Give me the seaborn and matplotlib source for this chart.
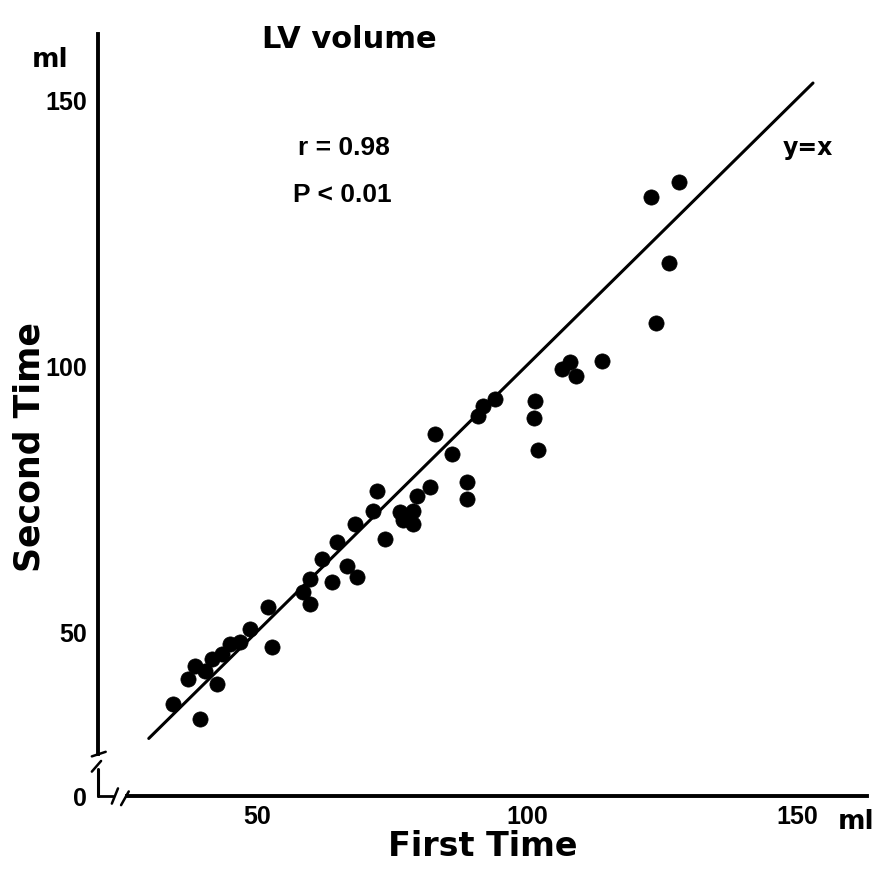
import matplotlib
matplotlib.use("Agg")
import matplotlib.pyplot as plt
from matplotlib.lines import Line2D
import seaborn as sns
import pandas as pd

# ---- data ----
first_time = [34.4, 39.4, 37.2, 38.5, 40.4, 42.6, 41.7, 43.5, 45.0, 46.9,
              48.7, 52.0, 52.8, 58.5, 59.8, 59.8, 62.0, 63.9, 64.8, 66.7,
              68.5, 68.1, 71.5, 73.7, 72.2, 76.5, 78.9, 78.9, 77.0, 79.6,
              82.0, 83.0, 86.1, 88.9, 88.9, 90.9, 91.9, 94.1, 101.5, 101.3,
              102.0, 106.5, 108.0, 109.1, 113.9, 123.0, 128.1, 126.3, 123.9]
second_time = [36.5, 33.7, 41.2, 43.6, 42.7, 40.2, 44.9, 45.9, 47.7, 48.1,
               50.6, 54.7, 47.2, 57.5, 59.9, 55.3, 63.7, 59.4, 66.9, 62.4,
               60.3, 70.3, 72.7, 67.4, 76.5, 72.5, 72.7, 70.3, 71.0, 75.5,
               77.2, 87.1, 83.4, 78.1, 75.0, 90.5, 92.4, 93.7, 93.3, 90.1,
               84.1, 99.3, 100.7, 98.0, 100.8, 131.6, 134.4, 119.2, 108.0]
identity_x = [30, 153]
identity_y = [30, 153]
x_ticks = [50, 100, 150]
x_tick_labels = ["50", "100", "150"]
y_ticks = [19.2, 50, 100, 150]
y_tick_labels = ["0", "50", "100", "150"]

df = pd.DataFrame({"First Time": first_time, "Second Time": second_time})
line_df = pd.DataFrame({"x": identity_x, "y": identity_y})

sns.set_theme(style="white")
plt.rcParams["font.family"] = ["DejaVu Sans"]
plt.rcParams["font.weight"] = "bold"
for k in ["text.color", "axes.labelcolor", "xtick.color", "ytick.color"]:
    plt.rcParams[k] = "black"

NARROW = ["Liberation Sans", "DejaVu Sans"]

W, H = 888, 870
fig = plt.figure(figsize=(W / 100, H / 100), dpi=100)
ax = fig.add_axes([98 / W, (H - 797) / H, (867 - 98) / W, (797 - 35) / H])

sns.lineplot(data=line_df, x="x", y="y", ax=ax, color="black", linewidth=2.2)
sns.scatterplot(data=df, x="First Time", y="Second Time", ax=ax, color="black",
                s=120, edgecolor="black", linewidth=0.5, zorder=3)

ax.set_xlim(20.6, 163.0)
ax.set_ylim(19.2, 162.2)
ax.set_xticks(x_ticks)
ax.set_xticklabels(x_tick_labels)
ax.set_yticks(y_ticks)
ax.set_yticklabels(y_tick_labels)
ax.set_xlabel("")
ax.set_ylabel("")
ax.tick_params(axis="both", direction="in", length=5, width=2, color="black",
               labelcolor="black", labelsize=18, pad=6)
for lab in ax.get_xticklabels() + ax.get_yticklabels():
    lab.set_fontweight("bold")
    lab.set_family(NARROW)
ax.tick_params(axis="y", pad=8)
ax.yaxis.get_major_ticks()[0].tick1line.set_visible(False)

for side in ["top", "right"]:
    ax.spines[side].set_visible(False)
for side in ["left", "bottom"]:
    ax.spines[side].set_linewidth(2.8)
    ax.spines[side].set_color("black")

# axis breaks
ax.spines["left"].set_bounds(27.1, 162.2)
ax.spines["bottom"].set_bounds(25.9, 163.0)
tr = ax.transAxes
ax.add_line(Line2D([0, 0], [0, 0.035], transform=tr, color="black", lw=2.2, clip_on=False))
ax.add_line(Line2D([0, 0.0195], [0, 0], transform=tr, color="black", lw=2.0, clip_on=False))
ax.add_line(Line2D([-0.008, 0.010], [0.052, 0.058], transform=tr, color="black", lw=1.8, clip_on=False))
ax.add_line(Line2D([-0.008, 0.004], [0.032, 0.046], transform=tr, color="black", lw=1.8, clip_on=False))
ax.add_line(Line2D([0.018, 0.026], [-0.010, 0.010], transform=tr, color="black", lw=1.8, clip_on=False))
ax.add_line(Line2D([0.030, 0.040], [-0.012, 0.006], transform=tr, color="black", lw=1.8, clip_on=False))

# texts
fig.text(349 / W, 1 - 40 / H, "LV volume", ha="center", va="center", fontsize=22, fontweight="bold")
fig.text(50 / W, 1 - 60 / H, "ml", ha="center", va="center", fontsize=19, fontweight="bold")
fig.text(298 / W, 1 - 148 / H, "r = 0.98", ha="left", va="center", fontsize=19,
         fontweight="bold", family=NARROW)
fig.text(293 / W, 1 - 195 / H, "P < 0.01", ha="left", va="center", fontsize=19,
         fontweight="bold", family=NARROW)
fig.text(783 / W, 1 - 148 / H, "y=x", ha="left", va="center", fontsize=17, fontweight="bold")
fig.text(838 / W, 1 - 822 / H, "ml", ha="left", va="center", fontsize=19, fontweight="bold")
fig.text(483 / W, 1 - 847 / H, "First Time", ha="center", va="center", fontsize=24, fontweight="bold")
fig.text(30 / W, 1 - 447 / H, "Second Time", ha="center", va="center", rotation=90,
         fontsize=25, fontweight="bold")

fig.savefig("out.png", dpi=100, facecolor="white")
